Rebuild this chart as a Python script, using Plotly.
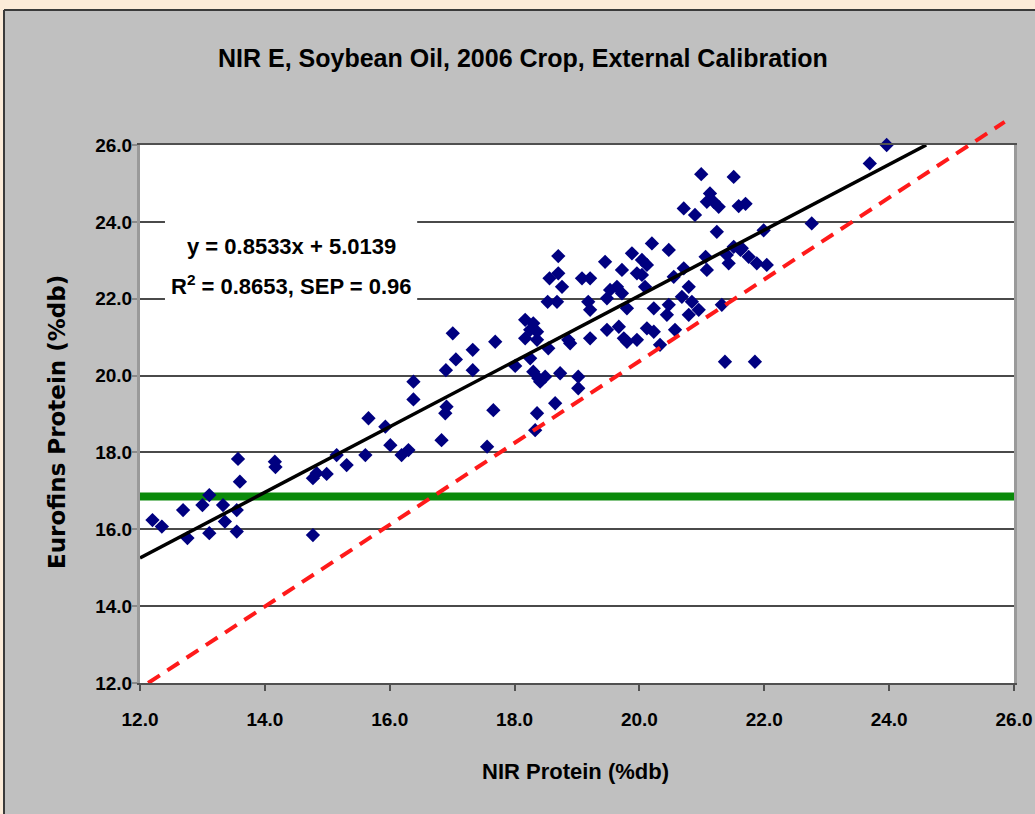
import plotly.graph_objects as go

# ---------------- data ----------------
nir_protein = [
    12.20, 12.35, 12.69, 12.76, 13.00, 13.11, 13.11, 13.33, 13.36, 13.55,
    13.55, 13.57, 13.60, 14.16, 14.17, 14.77, 14.77, 14.83, 14.99, 15.15,
    15.31, 15.61, 15.66, 15.93, 16.01, 16.19, 16.30, 16.38, 16.38, 16.83,
    16.90, 16.91, 16.89, 17.01, 17.06, 17.33, 17.33, 17.56, 17.69, 17.66,
    18.70, 18.56, 18.70, 18.76, 18.53, 18.68, 19.08, 19.21, 19.45, 19.72,
    19.88, 20.04, 20.12, 20.20, 19.96, 19.64, 19.53, 19.72, 19.48, 19.18,
    19.21, 19.80, 20.09, 20.23, 18.17, 18.30, 18.25, 18.36, 18.17, 18.36,
    18.54, 18.86, 18.89, 19.21, 19.48, 19.67, 19.75, 19.80, 19.96, 20.12,
    20.23, 18.01, 18.25, 18.30, 18.38, 18.41, 18.49, 18.73, 19.02, 19.02,
    18.65, 18.36, 18.33,
    20.47, 20.04, 20.55, 20.71, 21.06, 21.08, 21.24, 21.43, 21.51, 21.62,
    21.75, 21.88, 22.04, 20.47, 20.44, 20.68, 20.79, 20.84, 20.95, 20.79,
    20.33, 20.57, 21.32, 21.37, 21.85,
    20.99, 21.51, 21.13, 21.08, 21.19, 21.27, 20.71, 20.89, 21.59, 21.70,
    21.99, 22.76, 23.69, 23.96, 21.40, 21.64,
]
eurofins_protein = [
    16.24, 16.07, 16.50, 15.77, 16.63, 16.89, 15.90, 16.63, 16.20, 16.50,
    15.94, 17.83, 17.24, 17.76, 17.62, 15.85, 17.33, 17.46, 17.44, 17.93,
    17.67, 17.93, 18.89, 18.67, 18.19, 17.93, 18.06, 19.84, 19.38, 18.32,
    20.14, 19.19, 19.02, 21.10, 20.42, 20.67, 20.14, 18.15, 20.88, 19.10,
    23.11, 22.53, 22.66, 22.31, 21.92, 21.92, 22.53, 22.53, 22.96, 22.75,
    23.18, 23.01, 22.88, 23.44, 22.66, 22.31, 22.23, 22.14, 22.01, 21.92,
    21.71, 21.75, 22.31, 21.75, 21.45, 21.36, 21.19, 21.14, 20.97, 20.93,
    20.71, 20.93, 20.84, 20.97, 21.19, 21.27, 20.97, 20.88, 20.93, 21.23,
    21.14, 20.25, 20.45, 20.10, 19.93, 19.84, 19.97, 20.06, 19.97, 19.67,
    19.28, 19.02, 18.58,
    23.27, 22.62, 22.57, 22.79, 23.09, 22.75, 23.74, 22.92, 23.35, 23.27,
    23.09, 22.92, 22.88, 21.84, 21.58, 22.05, 22.31, 21.92, 21.71, 21.58,
    20.80, 21.19, 21.84, 20.36, 20.36,
    25.24, 25.17, 24.74, 24.52, 24.52, 24.39, 24.35, 24.18, 24.41, 24.47,
    23.78, 23.96, 25.52, 26.00, 23.14, 23.31,
]

fit_slope = 0.8533
fit_intercept = 5.0139
green_level = 16.85
reference_x = [12.13, 25.85]
reference_y = [12.0, 26.6]

axis_min = 12.0
axis_max = 26.0
tick_values = [12.0, 14.0, 16.0, 18.0, 20.0, 22.0, 24.0, 26.0]
tick_labels = ["12.0", "14.0", "16.0", "18.0", "20.0", "22.0", "24.0", "26.0"]

title_text = "NIR E, Soybean Oil, 2006 Crop, External Calibration"
x_title_text = "NIR Protein (%db)"
y_title_text = "Eurofins Protein (%db)"
eq_line1 = "y = 0.8533x + 5.0139"
eq_line2 = "R<sup>2</sup> = 0.8653, SEP = 0.96"

# ---------------- geometry ----------------
W, H = 1035, 814
PL, PR, PT, PB = 140, 1014, 145, 683     # main plot area in pixels
TOP_MARGIN = 100                          # extra room above for the reference line
D = (PB - PT) / (PB - TOP_MARGIN)         # fraction of paper height used by main y axis


def px_x(p):
    return (p - PL) / (PR - PL)


def px_y(p):
    return (PB - p) / (PB - TOP_MARGIN)


NARROW = "Liberation Sans, Arial, sans-serif"
WIDE = "DejaVu Sans, Verdana, Liberation Sans, sans-serif"

# regression line end points (clipped at top of axis)
fit_x = [axis_min, (axis_max - fit_intercept) / fit_slope]
fit_y = [fit_slope * v + fit_intercept for v in fit_x]

fig = go.Figure()

fig.add_trace(go.Scatter(
    x=[axis_min, axis_max], y=[green_level, green_level], mode="lines",
    line=dict(color="#0a8a0a", width=8), hoverinfo="skip"))

fig.add_trace(go.Scatter(
    x=nir_protein, y=eurofins_protein, mode="markers",
    marker=dict(symbol="diamond", size=11, color="#000080",
                line=dict(width=0)), cliponaxis=False))

fig.add_trace(go.Scatter(
    x=fit_x, y=fit_y, mode="lines",
    line=dict(color="black", width=3.5), hoverinfo="skip"))

fig.add_trace(go.Scatter(
    x=reference_x, y=reference_y, mode="lines", xaxis="x", yaxis="y2",
    line=dict(color="#ff1a1a", width=4, dash="14px,9px"), hoverinfo="skip"))

shapes = [
    # peach page strips and dark border of the grey panel
    dict(type="rect", xref="paper", yref="paper",
         x0=px_x(-5), x1=px_x(W + 5), y0=px_y(10), y1=px_y(-5),
         fillcolor="#fcebd8", line=dict(width=0), layer="below"),
    dict(type="rect", xref="paper", yref="paper",
         x0=px_x(-5), x1=px_x(4), y0=px_y(H + 5), y1=px_y(-5),
         fillcolor="#fcebd8", line=dict(width=0), layer="below"),
    dict(type="line", xref="paper", yref="paper",
         x0=px_x(4), x1=px_x(W + 5), y0=px_y(10), y1=px_y(10),
         line=dict(color="#3a3a3a", width=2), layer="below"),
    dict(type="line", xref="paper", yref="paper",
         x0=px_x(4), x1=px_x(4), y0=px_y(10), y1=px_y(H + 5),
         line=dict(color="#3a3a3a", width=2), layer="below"),
    # white plot area
    dict(type="rect", xref="x domain", yref="y domain", x0=0, x1=1, y0=0, y1=1,
         fillcolor="white", line=dict(width=0), layer="below"),
    # white box behind the equation
    dict(type="rect", xref="x", yref="y", x0=12.40, x1=16.44, y0=21.96, y1=24.07,
         fillcolor="white", line=dict(width=0), layer="between"),
]

annotations = [
    dict(text=title_text, xref="paper", yref="paper", x=px_x(523), y=px_y(58),
         xanchor="center", yanchor="middle", showarrow=False,
         font=dict(family=NARROW, size=25, color="black", weight="bold")),
    dict(text=x_title_text, xref="paper", yref="paper", x=px_x(575), y=px_y(771),
         xanchor="center", yanchor="middle", showarrow=False,
         font=dict(family=NARROW, size=22, color="black", weight="bold")),
    dict(text=y_title_text, xref="paper", yref="paper", x=px_x(57), y=px_y(422),
         xanchor="center", yanchor="middle", showarrow=False, textangle=-90,
         font=dict(family=WIDE, size=23, color="black", weight="bold")),
    dict(text=eq_line1, xref="x", yref="y", x=14.42, y=23.37,
         xanchor="center", yanchor="middle", showarrow=False,
         font=dict(family=NARROW, size=22, color="black", weight="bold")),
    dict(text=eq_line2, xref="x", yref="y", x=14.42, y=22.36,
         xanchor="center", yanchor="middle", showarrow=False,
         font=dict(family=NARROW, size=22, color="black", weight="bold")),
]

fig.update_layout(
    width=W, height=H,
    margin=dict(l=PL, r=W - PR, t=TOP_MARGIN, b=H - PB, pad=0, autoexpand=False),
    paper_bgcolor="#c0c0c0",
    plot_bgcolor="rgba(0,0,0,0)",
    showlegend=False,
    shapes=shapes,
    annotations=annotations,
    xaxis=dict(
        range=[axis_min, axis_max], tickvals=tick_values, ticktext=tick_labels,
        showgrid=False, zeroline=False, automargin=False,
        showline=True, linecolor="#505050", linewidth=2, mirror=True,
        ticks="outside", ticklen=6, tickwidth=2, tickcolor="#505050",
        tickfont=dict(family=NARROW, size=19, color="black", weight="bold"),
        ticklabelstandoff=12, ticklabeloverflow="allow", anchor="y",
    ),
    yaxis=dict(
        range=[axis_min, axis_max], tickvals=tick_values, ticktext=tick_labels,
        domain=[0, D], automargin=False,
        showgrid=True, gridcolor="#4a4a4a", gridwidth=2, zeroline=False,
        showline=True, linecolor="#9a9a9a", linewidth=3, mirror=True,
        ticks="outside", ticklen=5, tickwidth=2, tickcolor="#8a8a8a",
        tickfont=dict(family=NARROW, size=19, color="black", weight="bold"),
        ticklabelstandoff=-4, ticklabeloverflow="allow", anchor="x",
    ),
    yaxis2=dict(
        range=[axis_min, axis_min + (axis_max - axis_min) / D],
        domain=[0, 1], anchor="x", visible=False, showgrid=False, zeroline=False,
        automargin=False,
    ),
)

fig.write_html("out.html")
